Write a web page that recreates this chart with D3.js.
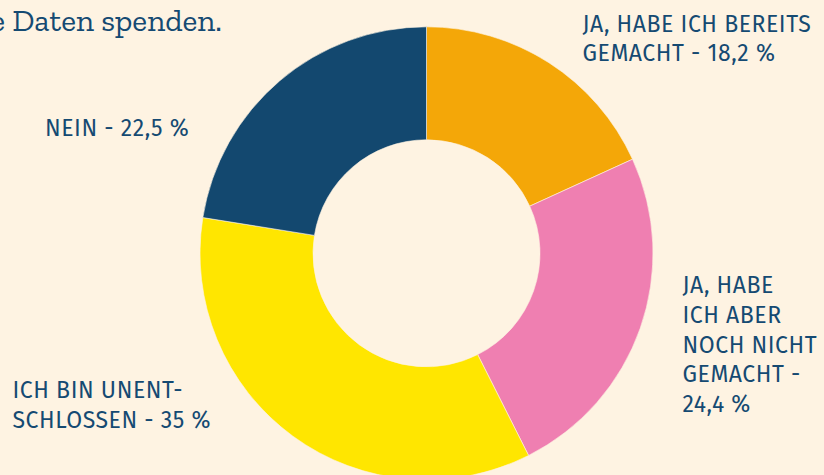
<!DOCTYPE html>
<html>
<head>
<meta charset="utf-8">
<script src="https://cdn.jsdelivr.net/npm/d3@7"></script>
<style>
  html, body { margin: 0; padding: 0; background: #fef3e2; }
  svg { display: block; }
</style>
</head>
<body>
<div id="chart"></div>
<script>
// Antworten in Prozent, im Uhrzeigersinn ab 12 Uhr
const categories = ["Ja, habe ich bereits gemacht", "Ja, habe ich aber noch nicht gemacht", "Ich bin unentschlossen", "Nein"];
const values = [18.2, 24.4, 35, 22.5];
const colors = ["#f4a708", "#ef7fb1", "#ffe600", "#13486f"];

// Beschriftungen, so umbrochen wie im Original
const labelLines = [
    ["JA, HABE ICH BEREITS", "GEMACHT - 18,2 %"],
    ["JA, HABE", "ICH ABER", "NOCH NICHT", "GEMACHT -", "24,4 %"],
    ["ICH BIN UNENT-", "SCHLOSSEN - 35 %"],
    ["NEIN - 22,5 %"]
];
const titleText = "e Daten spenden.";

let width = 824, height = 475;
let cx = 426.5, cy = 253.3, outerR = 226.5, innerR = 113.5;
// linke Kante und erste Grundlinie je Beschriftung
let labelPos = [[582.5, 31.7], [682.5, 293.3], [12.5, 398.3], [45, 136]];
let lineHeight = 29.6;
let textColor = "#154a72";

let svg = d3.select("#chart")
    .append("svg")
    .attr("width", width)
    .attr("height", height);

svg.append("rect")
    .attr("width", width)
    .attr("height", height)
    .attr("fill", "#fef3e2");

let pie = d3.pie()
    .sort(null)
    .value(function (d) { return d; });

let arc = d3.arc()
    .innerRadius(innerR)
    .outerRadius(outerR);

let g = svg.append("g")
    .attr("transform", "translate(" + cx + "," + cy + ")");

g.selectAll("path")
    .data(pie(values))
    .enter()
    .append("path")
    .attr("d", arc)
    .attr("fill", function (d, i) { return colors[i]; })
    .attr("stroke", "#fef3e2")
    .attr("stroke-width", 0.6)
    .append("title")
    .text(function (d, i) { return categories[i] + ": " + values[i] + " %"; });

// Überschrift, links abgeschnitten
svg.append("text")
    .attr("x", 222)
    .attr("y", 30.7)
    .attr("text-anchor", "end")
    .attr("fill", textColor)
    .style("font-family", "'Zilla Slab', 'DejaVu Serif', serif")
    .style("font-size", "31.5px")
    .text(titleText);

labelLines.forEach(function (lines, i) {
    let t = svg.append("text")
        .attr("fill", textColor)
        .style("font-family", "'Fira Sans', 'Open Sans', sans-serif")
        .style("font-size", "23px")
        .style("letter-spacing", "0.55px");
    t.selectAll("tspan")
        .data(lines)
        .enter()
        .append("tspan")
        .attr("x", labelPos[i][0])
        .attr("y", function (d, j) { return labelPos[i][1] + j * lineHeight; })
        .text(function (d) { return d; });
});
</script>
</body>
</html>
